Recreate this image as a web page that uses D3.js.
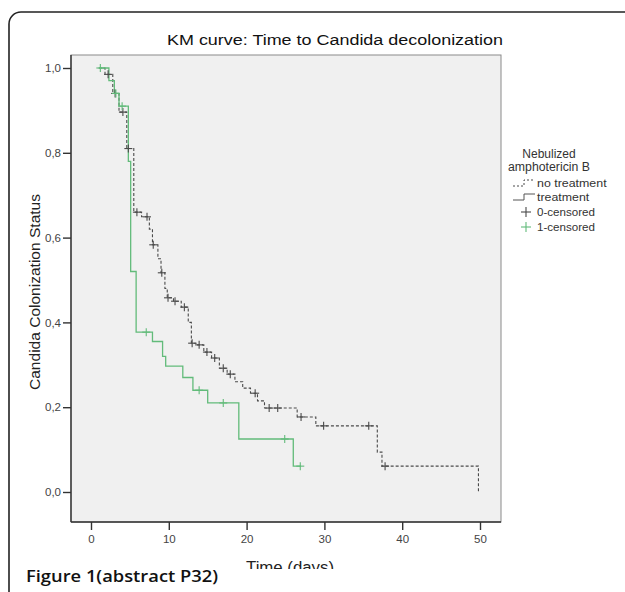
<!DOCTYPE html>
<html><head><meta charset="utf-8">
<script src="https://cdn.jsdelivr.net/npm/d3@7"></script>
<style>
html,body{margin:0;padding:0;background:#fff;}
svg{display:block;}
</style></head>
<body>
<svg id="c" width="625" height="592"></svg>
<script>
// ---- data ----
const xTicks = [0, 10, 20, 30, 40, 50];
const yTicks = [0, 0.2, 0.4, 0.6, 0.8, 1.0];

// no treatment: step start times and survival after
const ntTimes = [1, 1.8, 2.8, 3.6, 4.6, 5.5, 6.5, 7.5, 7.9, 8.6, 9.0, 9.5, 9.8, 10.6, 11.6, 12.5, 12.9, 13.7, 14.5, 15.5, 16.5, 17.5, 18.5, 19.5, 20.5, 21.4, 22.3, 26.5, 28.9, 36.8, 37.4, 49.8];
const ntSurv  = [1.0, 0.985, 0.94, 0.896, 0.81, 0.66, 0.649, 0.62, 0.583, 0.55, 0.517, 0.48, 0.458, 0.45, 0.436, 0.40, 0.351, 0.347, 0.33, 0.316, 0.292, 0.278, 0.26, 0.245, 0.233, 0.215, 0.198, 0.177, 0.156, 0.094, 0.061, 0.0];
const ntCensor = [2.2, 3.1, 4.1, 4.8, 5.9, 7.2, 8.0, 9.1, 9.9, 10.8, 12.0, 13.0, 13.9, 14.9, 15.9, 17.0, 17.9, 21.1, 22.9, 24.0, 27.0, 29.9, 35.7, 37.8];

// treatment
const trTimes = [1, 2.3, 3.0, 3.6, 4.8, 5.1, 5.8, 7.9, 9.2, 9.6, 11.8, 13.1, 15.0, 19.0, 26.0, 27.0];
const trSurv  = [1.0, 0.97, 0.94, 0.91, 0.78, 0.52, 0.377, 0.355, 0.32, 0.297, 0.27, 0.24, 0.21, 0.125, 0.061, 0.061];
const trCensor = [1.2, 3.2, 4.0, 7.1, 13.9, 17.0, 24.9, 26.9];

const legendLabels = ["no treatment", "treatment", "0-censored", "1-censored"];

// ---- drawing ----
const svg = d3.select("#c");
const FONT = "'Liberation Sans', Arial, sans-serif";
const GREEN = "#62bb7a";
const GRAY = "#4a4a4a";

// card
svg.append("rect").attr("x", 9).attr("y", 12).attr("width", 640).attr("height", 620)
  .attr("rx", 12).attr("fill", "#fff").attr("stroke", "#222").attr("stroke-width", 1.6);

const x = d3.scaleLinear().domain([0, 50]).range([91, 480]);
const y = d3.scaleLinear().domain([0, 1]).range([492, 68]);

const frame = {l: 71, r: 501, t: 55, b: 522};
svg.append("rect").attr("x", frame.l).attr("y", frame.t)
  .attr("width", frame.r - frame.l).attr("height", frame.b - frame.t)
  .attr("fill", "#f0f0f0").attr("stroke", "#8a8a8a").attr("stroke-width", 1);
svg.append("line").attr("x1", frame.l).attr("x2", frame.l).attr("y1", frame.t).attr("y2", frame.b)
  .attr("stroke", "#333").attr("stroke-width", 1.4);
svg.append("line").attr("x1", frame.l).attr("x2", frame.r).attr("y1", frame.b).attr("y2", frame.b)
  .attr("stroke", "#333").attr("stroke-width", 1.4);

// axes
const yAxis = d3.axisLeft(y).tickValues(yTicks).tickSize(8).tickPadding(2)
  .tickFormat(d => d.toFixed(1).replace(".", ","));
const gy = svg.append("g").attr("transform", `translate(${frame.l},0)`).call(yAxis);
gy.select(".domain").remove();
gy.selectAll("line").attr("stroke", "#333").attr("stroke-width", 1.4);
gy.selectAll("text").attr("font-family", FONT).attr("font-size", 11.5).attr("fill", "#444");

const xAxis = d3.axisBottom(x).tickValues(xTicks).tickSize(8).tickPadding(5);
const gx = svg.append("g").attr("transform", `translate(0,${frame.b})`).call(xAxis);
gx.select(".domain").remove();
gx.selectAll("line").attr("stroke", "#333").attr("stroke-width", 1.4);
gx.selectAll("text").attr("font-family", FONT).attr("font-size", 11.5).attr("fill", "#444");

// curves
const line = d3.line().x(d => x(d[0])).y(d => y(d[1])).curve(d3.curveStepAfter);
const ntData = ntTimes.map((t, i) => [t, ntSurv[i]]);
const trData = trTimes.map((t, i) => [t, trSurv[i]]);

function survAt(times, surv, t) {
  let v = surv[0];
  for (let i = 0; i < times.length; i++) { if (times[i] <= t) v = surv[i]; }
  return v;
}

svg.append("path").attr("d", line(ntData)).attr("fill", "none")
  .attr("stroke", GRAY).attr("stroke-width", 1.1).attr("stroke-dasharray", "3,2");
svg.append("path").attr("d", line(trData)).attr("fill", "none")
  .attr("stroke", GREEN).attr("stroke-width", 1.3);

function censor(times, surv, ct, color) {
  const g = svg.append("g");
  ct.forEach(t => {
    const cx = x(t), cy = y(survAt(times, surv, t));
    g.append("line").attr("x1", cx - 4).attr("x2", cx + 4).attr("y1", cy).attr("y2", cy)
      .attr("stroke", color).attr("stroke-width", 1.1);
    g.append("line").attr("x1", cx).attr("x2", cx).attr("y1", cy - 4).attr("y2", cy + 4)
      .attr("stroke", color).attr("stroke-width", 1.1);
  });
}
censor(ntTimes, ntSurv, ntCensor, GRAY);
censor(trTimes, trSurv, trCensor, GREEN);

// title
svg.append("text").attr("x", 335).attr("y", 45).attr("text-anchor", "middle")
  .attr("font-family", FONT).attr("font-size", 15.5).attr("fill", "#111")
  .attr("textLength", 336).attr("lengthAdjust", "spacingAndGlyphs")
  .text("KM curve: Time to Candida decolonization");

// y label
svg.append("text").attr("transform", "translate(40,292) rotate(-90)")
  .attr("text-anchor", "middle").attr("font-family", FONT).attr("font-size", 15.5)
  .attr("fill", "#222").attr("textLength", 196).attr("lengthAdjust", "spacingAndGlyphs")
  .text("Candida Colonization Status");

// x label (clipped at bottom like the reference)
svg.append("clipPath").attr("id", "xlclip").append("rect")
  .attr("x", 0).attr("y", 540).attr("width", 625).attr("height", 29);
svg.append("text").attr("x", 290).attr("y", 573).attr("text-anchor", "middle")
  .attr("clip-path", "url(#xlclip)")
  .attr("font-family", FONT).attr("font-size", 16).attr("fill", "#222")
  .attr("textLength", 88).attr("lengthAdjust", "spacingAndGlyphs").text("Time (days)");

// caption
svg.append("text").attr("x", 26).attr("y", 582)
  .attr("font-family", "'Open Sans', 'Noto Sans', sans-serif").attr("font-weight", 600)
  .attr("font-size", 16.5).attr("fill", "#111")
  .attr("textLength", 192).attr("lengthAdjust", "spacingAndGlyphs")
  .text("Figure 1(abstract P32)");

// legend
const LX = 549;
svg.append("text").attr("x", LX).attr("y", 158).attr("text-anchor", "middle")
  .attr("font-family", FONT).attr("font-size", 12).attr("fill", "#333").text("Nebulized");
svg.append("text").attr("x", LX).attr("y", 171).attr("text-anchor", "middle")
  .attr("font-family", FONT).attr("font-size", 12).attr("fill", "#333")
  .attr("textLength", 82).attr("lengthAdjust", "spacingAndGlyphs").text("amphotericin B");

const itemY = [183, 197, 212, 227];
legendLabels.forEach((lab, i) => {
  svg.append("text").attr("x", 537).attr("y", itemY[i] + 4)
    .attr("font-family", FONT).attr("font-size", 11.5).attr("fill", "#333")
    .attr("textLength", lab.length * 5.8).attr("lengthAdjust", "spacingAndGlyphs")
    .text(lab);
});
// symbols
const stepPts = (yy) => [[513, yy + 3], [524, yy + 3], [524, yy - 3], [535, yy - 3]];
svg.append("path").attr("d", d3.line()(stepPts(itemY[0]))).attr("fill", "none")
  .attr("stroke", GRAY).attr("stroke-width", 1).attr("stroke-dasharray", "2,2");
svg.append("path").attr("d", d3.line()(stepPts(itemY[1]))).attr("fill", "none")
  .attr("stroke", "#555").attr("stroke-width", 1);
[[itemY[2], GRAY], [itemY[3], GREEN]].forEach(([yy, col]) => {
  svg.append("line").attr("x1", 521).attr("x2", 531).attr("y1", yy).attr("y2", yy)
    .attr("stroke", col).attr("stroke-width", 1.1);
  svg.append("line").attr("x1", 526).attr("x2", 526).attr("y1", yy - 5).attr("y2", yy + 5)
    .attr("stroke", col).attr("stroke-width", 1.1);
});
</script>
</body></html>
